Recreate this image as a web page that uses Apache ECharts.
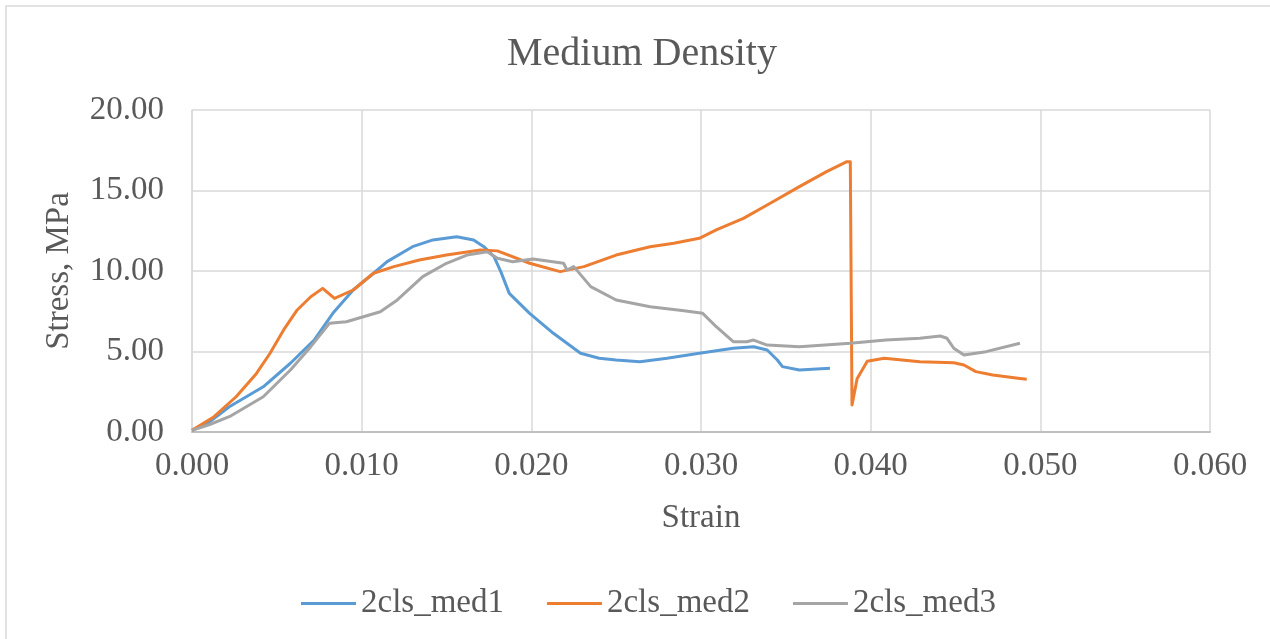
<!DOCTYPE html>
<html>
<head>
<meta charset="utf-8">
<script src="https://cdn.jsdelivr.net/npm/echarts@6/dist/echarts.min.js"></script>
<style>
  html, body { margin: 0; padding: 0; background: #fff; }
  #chart { width: 1270px; height: 639px; }
</style>
</head>
<body>
<div id="chart"></div>
<script>
// data (strain, stress in MPa)
const med1Strain = [0, 0.0010, 0.0022, 0.0042, 0.0058, 0.0072, 0.0083, 0.0095, 0.0107, 0.0115, 0.0130, 0.0142, 0.0156, 0.0166, 0.0172, 0.0178, 0.0182, 0.0187, 0.0199, 0.0213, 0.0229, 0.0240, 0.0250, 0.0264, 0.0280, 0.0299, 0.0319, 0.0331, 0.0339, 0.0345, 0.0348, 0.0358, 0.0376]
const med1Stress = [0.1, 0.6, 1.57, 2.81, 4.27, 5.71, 7.37, 8.82, 9.86, 10.58, 11.51, 11.93, 12.13, 11.93, 11.51, 10.89, 9.96, 8.61, 7.37, 6.13, 4.89, 4.58, 4.47, 4.37, 4.58, 4.89, 5.20, 5.30, 5.09, 4.47, 4.06, 3.85, 3.96]

const med2Strain = [0, 0.0013, 0.0026, 0.0038, 0.0046, 0.0054, 0.0062, 0.0070, 0.0077, 0.0084, 0.0095, 0.0107, 0.0119, 0.0134, 0.0150, 0.0170, 0.0180, 0.0199, 0.0217, 0.0231, 0.0250, 0.0270, 0.0284, 0.0299, 0.0309, 0.0325, 0.0339, 0.0358, 0.0374, 0.0386, 0.0388, 0.0389, 0.0392, 0.0398, 0.0408, 0.0429, 0.0449, 0.0455, 0.0462, 0.0472, 0.0488, 0.0492]
const med2Stress = [0.1, 0.95, 2.19, 3.64, 4.89, 6.34, 7.58, 8.40, 8.92, 8.30, 8.82, 9.86, 10.27, 10.68, 10.99, 11.30, 11.25, 10.48, 9.96, 10.27, 10.99, 11.51, 11.72, 12.03, 12.55, 13.27, 14.10, 15.24, 16.17, 16.79, 16.79, 1.68, 3.30, 4.40, 4.58, 4.37, 4.30, 4.16, 3.75, 3.54, 3.33, 3.27]

const med3Strain = [0, 0.0010, 0.0022, 0.0042, 0.0058, 0.0070, 0.0081, 0.0091, 0.0111, 0.0121, 0.0136, 0.0150, 0.0162, 0.0174, 0.0180, 0.0189, 0.0201, 0.0219, 0.0221, 0.0225, 0.0235, 0.0250, 0.0270, 0.0290, 0.0301, 0.0309, 0.0319, 0.0327, 0.0331, 0.0339, 0.0358, 0.0388, 0.0409, 0.0429, 0.0441, 0.0445, 0.0449, 0.0455, 0.0468, 0.0488]
const med3Stress = [0.1, 0.45, 0.95, 2.19, 3.85, 5.30, 6.75, 6.85, 7.47, 8.20, 9.65, 10.48, 10.99, 11.20, 10.79, 10.58, 10.75, 10.48, 10.06, 10.27, 9.03, 8.20, 7.78, 7.53, 7.37, 6.54, 5.61, 5.61, 5.71, 5.40, 5.30, 5.51, 5.71, 5.82, 5.96, 5.82, 5.20, 4.78, 4.99, 5.51]

const seriesNames = ['2cls_med1', '2cls_med2', '2cls_med3']
const seriesColors = ['#5b9bd5', '#ed7d31', '#a5a5a5']

const zip = (xs, ys) => xs.map((x, i) => [x, ys[i]])
const seriesData = [
  zip(med1Strain, med1Stress),
  zip(med2Strain, med2Stress),
  zip(med3Strain, med3Stress)
]

const font = '"Liberation Serif", "Times New Roman", serif'
const textColor = '#595959'

const chart = echarts.init(document.getElementById('chart'))
chart.setOption({
  animation: false,
  color: seriesColors,
  title: {
    text: 'Medium Density',
    left: 502,
    top: 29,
    textStyle: { fontFamily: font, fontSize: 40, fontWeight: 'normal', color: textColor }
  },
  graphic: [{
    type: 'rect',
    shape: { x: 6, y: 6, width: 1300, height: 700 },
    style: { fill: 'none', stroke: '#d9d9d9', lineWidth: 1.5 },
    silent: true
  }],
  grid: { left: 192, right: 60, top: 110, bottom: 207 },
  legend: {
    left: 296,
    top: 582,
    icon: 'rect',
    itemWidth: 55,
    itemHeight: 3,
    itemGap: 43,
    data: seriesNames,
    textStyle: { fontFamily: font, fontSize: 33, color: textColor }
  },
  xAxis: {
    type: 'value',
    min: 0,
    max: 0.06,
    interval: 0.01,
    name: 'Strain',
    nameLocation: 'middle',
    nameGap: 70,
    nameTextStyle: { fontFamily: font, fontSize: 33, color: textColor },
    axisLine: { lineStyle: { color: '#bfbfbf', width: 2 } },
    axisTick: { show: false },
    axisLabel: {
      margin: 18,
      fontFamily: font,
      fontSize: 33,
      color: textColor,
      formatter: v => v.toFixed(3)
    },
    splitLine: { lineStyle: { color: '#d9d9d9', width: 1.5 } }
  },
  yAxis: {
    type: 'value',
    min: 0,
    max: 20,
    interval: 5,
    name: 'Stress, MPa',
    nameLocation: 'middle',
    nameGap: 116,
    nameTextStyle: { fontFamily: font, fontSize: 33, color: textColor },
    axisLine: { show: true, lineStyle: { color: '#d9d9d9', width: 1.5 } },
    axisTick: { show: false },
    axisLabel: {
      margin: 28,
      fontFamily: font,
      fontSize: 33,
      color: textColor,
      formatter: v => v.toFixed(2)
    },
    splitLine: { lineStyle: { color: '#d9d9d9', width: 1.5 } }
  },
  series: seriesNames.map((name, i) => ({
    name: name,
    type: 'line',
    data: seriesData[i],
    symbol: 'none',
    lineStyle: { width: 3, join: 'round' }
  }))
})
</script>
</body>
</html>
